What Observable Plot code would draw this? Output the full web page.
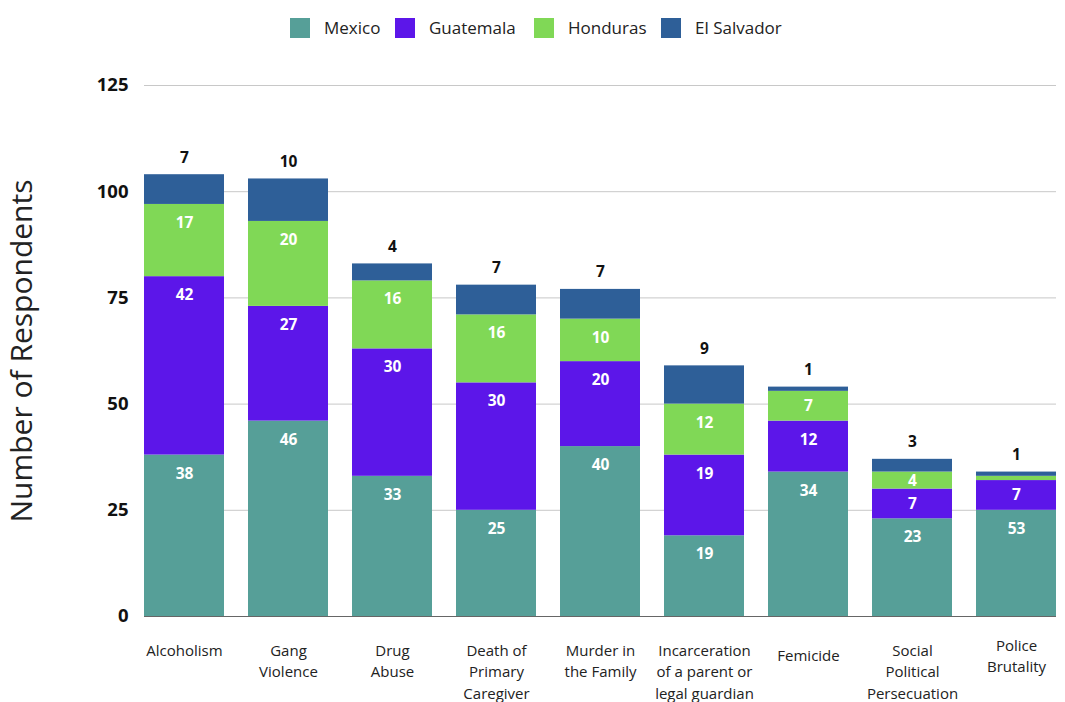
<!DOCTYPE html>
<html>
<head>
<meta charset="utf-8">
<script src="https://cdn.jsdelivr.net/npm/d3@7"></script>
<script src="https://cdn.jsdelivr.net/npm/@observablehq/plot@0.6"></script>
<style>
  html, body { margin: 0; padding: 0; background: #fff; }
  body { width: 1065px; height: 702px; overflow: hidden; font-family: "Open Sans", Lato, sans-serif; }
  #legend { position: relative; height: 50px; }
  #legend .item { position: absolute; top: 16px; display: flex; align-items: center; font-size: 17px; color: #222; }
  #legend .sw { width: 20px; height: 20px; margin-right: 14px; }
  #chart svg { display: block; overflow: visible; }
</style>
</head>
<body>
<div id="legend"></div>
<div id="chart"></div>
<script>
const categories = [
  "Alcoholism",
  "Gang\nViolence",
  "Drug\nAbuse",
  "Death of\nPrimary\nCaregiver",
  "Murder in\nthe Family",
  "Incarceration\nof a parent or\nlegal guardian",
  "Femicide",
  "Social\nPolitical\nPersecuation",
  "Police\nBrutality"
];
const countries = ["Mexico", "Guatemala", "Honduras", "El Salvador"];
const countryColors = ["#569f98", "#5c16e9", "#80d856", "#2e5f98"];
const mexico = [38, 46, 33, 25, 40, 19, 34, 23, 25];
const mexicoLabels = ["38", "46", "33", "25", "40", "19", "34", "23", "53"];
const guatemala = [42, 27, 30, 30, 20, 19, 12, 7, 7];
const honduras = [17, 20, 16, 16, 10, 12, 7, 4, 1];
const elSalvador = [7, 10, 4, 7, 7, 9, 1, 3, 1];
const yTicks = [0, 25, 50, 75, 100, 125];

// legend
const legendLeft = [290, 395, 534, 661];
const legend = document.getElementById("legend");
countries.forEach((c, i) => {
  const it = document.createElement("div");
  it.className = "item";
  it.style.left = legendLeft[i] + "px";
  it.innerHTML = `<div class="sw" style="background:${countryColors[i]}"></div><span>${c}</span>`;
  legend.appendChild(it);
});

// build long table
const series = [mexico, guatemala, honduras, elSalvador];
const rows = [];
categories.forEach((cat, i) => {
  let base = 0;
  series.forEach((s, j) => {
    const v = s[i];
    rows.push({
      cat, country: countries[j], value: v, y1: base, y2: base + v,
      label: j === 0 ? mexicoLabels[i] : String(v), j
    });
    base += v;
  });
});

const H = 652, mt = 35, mb = 86;
const pxPerUnit = (H - mt - mb) / 125;
const insideRows = rows.filter(d => d.j < 3 && d.value >= 2).map(d => {
  const h = d.value * pxPerUnit;
  const off = Math.min(18.5, h / 2);
  return {...d, ly: d.y2 - off / pxPerUnit};
});
const topRows = rows.filter(d => d.j === 3);

const font = "'Open Sans', Lato, sans-serif";
const upCats = ["Police\nBrutality"];
const downCats = ["Femicide"];
const normalCats = categories.filter(c => !upCats.includes(c) && !downCats.includes(c));
const xLabel = (cats, dy) => Plot.text(cats, {x: d => d, frameAnchor: "bottom", lineAnchor: "top", dy, fontSize: 15, fill: "#222", lineHeight: 1.43});

const chart = Plot.plot({
  width: 1065,
  height: H,
  marginTop: mt,
  marginBottom: mb,
  marginLeft: 144,
  marginRight: 9,
  style: {fontFamily: font, color: "#111", background: "#fff"},
  x: {domain: categories, paddingInner: 24 / 104, paddingOuter: 0, round: false, axis: null},
  y: {domain: [0, 125], axis: null},
  color: {domain: countries, range: countryColors},
  marks: [
    Plot.ruleY(yTicks.filter(t => t > 0), {stroke: "#c8c8c8", strokeWidth: 1}),
    Plot.axisY(yTicks, {tickSize: 0, tickPadding: 16, fontSize: 18.5, fontWeight: "bold", label: null, fill: "#111"}),
    Plot.barY(rows, {x: "cat", y1: "y1", y2: "y2", fill: "country"}),
    Plot.ruleY([0], {stroke: "#666", strokeWidth: 1}),
    Plot.text(insideRows, {x: "cat", y: "ly", text: "label", fill: "white", fontWeight: "bold", fontSize: 15.5}),
    Plot.text(topRows, {x: "cat", y: "y2", text: "label", fill: "#111", fontWeight: "bold", fontSize: 15.5, dy: -17}),
    xLabel(normalCats, 24),
    xLabel(downCats, 29),
    xLabel(upCats, 19),
    Plot.text(["Number of Respondents"], {frameAnchor: "left", dx: -122, rotate: -90, fontSize: 30, fill: "#222", textAnchor: "middle", lineAnchor: "middle"})
  ]
});
document.getElementById("chart").appendChild(chart);
</script>
</body>
</html>
